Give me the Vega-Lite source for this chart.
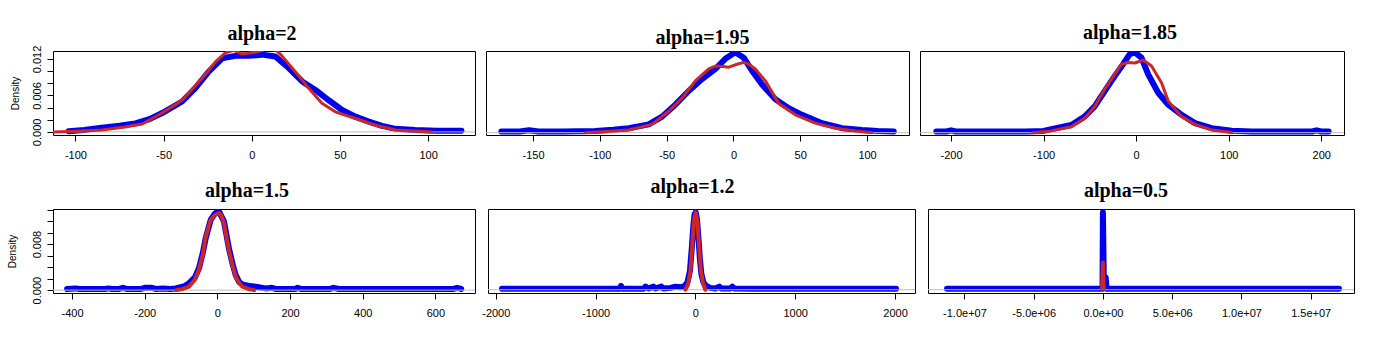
{
"$schema": "https://vega.github.io/schema/vega-lite/v6.json",
"background": "white",
"padding": {"left": 6, "top": 22, "right": 5, "bottom": 5},
"data": {"values": [
{"p":1,"s":"b","x":-103.8,"y":0.0001},{"p":1,"s":"b","x":-95,"y":0.0003},{"p":1,"s":"b","x":-85,"y":0.0007},{"p":1,"s":"b","x":-75,"y":0.001},{"p":1,"s":"b","x":-66,"y":0.0014},{"p":1,"s":"b","x":-58,"y":0.0021},{"p":1,"s":"b","x":-50.8,"y":0.0031},{"p":1,"s":"b","x":-39.5,"y":0.005},{"p":1,"s":"b","x":-32,"y":0.0072},{"p":1,"s":"b","x":-24.4,"y":0.0099},{"p":1,"s":"b","x":-16.8,"y":0.0121},{"p":1,"s":"b","x":-9.3,"y":0.0125},{"p":1,"s":"b","x":-1.7,"y":0.0125},{"p":1,"s":"b","x":5.9,"y":0.0127},{"p":1,"s":"b","x":13.4,"y":0.0124},{"p":1,"s":"b","x":21,"y":0.0105},{"p":1,"s":"b","x":28.6,"y":0.0083},{"p":1,"s":"b","x":36.1,"y":0.0069},{"p":1,"s":"b","x":43.7,"y":0.0052},{"p":1,"s":"b","x":51.2,"y":0.0036},{"p":1,"s":"b","x":58.8,"y":0.0025},{"p":1,"s":"b","x":66.4,"y":0.0017},{"p":1,"s":"b","x":73.9,"y":0.001},{"p":1,"s":"b","x":81.5,"y":0.0005},{"p":1,"s":"b","x":92.6,"y":0.0003},{"p":1,"s":"b","x":105,"y":0.0002},{"p":1,"s":"b","x":118.9,"y":0.0002},
{"p":1,"s":"r","x":-112,"y":0},{"p":1,"s":"r","x":-100,"y":0.0001},{"p":1,"s":"r","x":-84.9,"y":0.0003},{"p":1,"s":"r","x":-72,"y":0.0008},{"p":1,"s":"r","x":-62.1,"y":0.0013},{"p":1,"s":"r","x":-50.8,"y":0.0031},{"p":1,"s":"r","x":-39.5,"y":0.0052},{"p":1,"s":"r","x":-28.2,"y":0.0088},{"p":1,"s":"r","x":-20.6,"y":0.0115},{"p":1,"s":"r","x":-15,"y":0.013},{"p":1,"s":"r","x":-10,"y":0.0134},{"p":1,"s":"r","x":-5.5,"y":0.0128},{"p":1,"s":"r","x":2.1,"y":0.0131},{"p":1,"s":"r","x":9.6,"y":0.0137},{"p":1,"s":"r","x":14,"y":0.0134},{"p":1,"s":"r","x":17.1,"y":0.0125},{"p":1,"s":"r","x":24.7,"y":0.0099},{"p":1,"s":"r","x":32.2,"y":0.0072},{"p":1,"s":"r","x":39.8,"y":0.0047},{"p":1,"s":"r","x":47.4,"y":0.0033},{"p":1,"s":"r","x":58.8,"y":0.0022},{"p":1,"s":"r","x":70.1,"y":0.0011},{"p":1,"s":"r","x":81.5,"y":0.0003},{"p":1,"s":"r","x":95,"y":0.0001},{"p":1,"s":"r","x":102,"y":0},
{"p":2,"s":"b","x":-173.7,"y":0.0002},{"p":2,"s":"b","x":-160,"y":0.0002},{"p":2,"s":"b","x":-153,"y":0.0004},{"p":2,"s":"b","x":-146,"y":0.0002},{"p":2,"s":"b","x":-128,"y":0.0002},{"p":2,"s":"b","x":-103.4,"y":0.0003},{"p":2,"s":"b","x":-90,"y":0.0005},{"p":2,"s":"b","x":-78.4,"y":0.00075},{"p":2,"s":"b","x":-63.4,"y":0.0014},{"p":2,"s":"b","x":-53.4,"y":0.0027},{"p":2,"s":"b","x":-43.5,"y":0.0047},{"p":2,"s":"b","x":-33.5,"y":0.007},{"p":2,"s":"b","x":-23.5,"y":0.009},{"p":2,"s":"b","x":-13.5,"y":0.0107},{"p":2,"s":"b","x":-6.1,"y":0.0124},{"p":2,"s":"b","x":1.4,"y":0.0135},{"p":2,"s":"b","x":7.7,"y":0.0126},{"p":2,"s":"b","x":13.9,"y":0.0104},{"p":2,"s":"b","x":21.4,"y":0.0081},{"p":2,"s":"b","x":31.4,"y":0.0056},{"p":2,"s":"b","x":41.4,"y":0.0041},{"p":2,"s":"b","x":51.3,"y":0.003},{"p":2,"s":"b","x":66.3,"y":0.0016},{"p":2,"s":"b","x":81.3,"y":0.00075},{"p":2,"s":"b","x":96.3,"y":0.00046},{"p":2,"s":"b","x":108,"y":0.0003},{"p":2,"s":"b","x":120,"y":0.0002},
{"p":2,"s":"r","x":-110.8,"y":0},{"p":2,"s":"r","x":-95,"y":0.0002},{"p":2,"s":"r","x":-78.4,"y":0.00046},{"p":2,"s":"r","x":-60.9,"y":0.0014},{"p":2,"s":"r","x":-48.4,"y":0.0036},{"p":2,"s":"r","x":-38.5,"y":0.0058},{"p":2,"s":"r","x":-28.5,"y":0.0087},{"p":2,"s":"r","x":-18.5,"y":0.0107},{"p":2,"s":"r","x":-13.5,"y":0.0112},{"p":2,"s":"r","x":-8,"y":0.0111},{"p":2,"s":"r","x":-3.5,"y":0.011},{"p":2,"s":"r","x":1.4,"y":0.0114},{"p":2,"s":"r","x":7.7,"y":0.0118},{"p":2,"s":"r","x":11,"y":0.0116},{"p":2,"s":"r","x":16.4,"y":0.0107},{"p":2,"s":"r","x":23.9,"y":0.0087},{"p":2,"s":"r","x":33.9,"y":0.0049},{"p":2,"s":"r","x":46.3,"y":0.003},{"p":2,"s":"r","x":61.3,"y":0.0016},{"p":2,"s":"r","x":76.3,"y":0.00075},{"p":2,"s":"r","x":91.2,"y":0.0003},{"p":2,"s":"r","x":103.7,"y":0},
{"p":3,"s":"b","x":-216,"y":0.0002},{"p":3,"s":"b","x":-205,"y":0.0002},{"p":3,"s":"b","x":-200,"y":0.0004},{"p":3,"s":"b","x":-195,"y":0.0002},{"p":3,"s":"b","x":-150,"y":0.0002},{"p":3,"s":"b","x":-120,"y":0.0002},{"p":3,"s":"b","x":-100,"y":0.0003},{"p":3,"s":"b","x":-91.7,"y":0.0006},{"p":3,"s":"b","x":-70.1,"y":0.0013},{"p":3,"s":"b","x":-55.7,"y":0.0027},{"p":3,"s":"b","x":-44.8,"y":0.0044},{"p":3,"s":"b","x":-34,"y":0.007},{"p":3,"s":"b","x":-23.2,"y":0.0095},{"p":3,"s":"b","x":-14.1,"y":0.0115},{"p":3,"s":"b","x":-6.9,"y":0.0132},{"p":3,"s":"b","x":-1.5,"y":0.0135},{"p":3,"s":"b","x":5.7,"y":0.0126},{"p":3,"s":"b","x":13,"y":0.0098},{"p":3,"s":"b","x":23.8,"y":0.0067},{"p":3,"s":"b","x":34.7,"y":0.0047},{"p":3,"s":"b","x":49.1,"y":0.003},{"p":3,"s":"b","x":63.5,"y":0.0016},{"p":3,"s":"b","x":81.6,"y":0.00075},{"p":3,"s":"b","x":103.2,"y":0.00034},{"p":3,"s":"b","x":124.9,"y":0.0002},{"p":3,"s":"b","x":150,"y":0.0002},{"p":3,"s":"b","x":190,"y":0.0002},{"p":3,"s":"b","x":195,"y":0.0004},{"p":3,"s":"b","x":200,"y":0.0002},{"p":3,"s":"b","x":208,"y":0.0002},
{"p":3,"s":"r","x":-111.6,"y":0},{"p":3,"s":"r","x":-91.7,"y":0.0003},{"p":3,"s":"r","x":-70.1,"y":0.001},{"p":3,"s":"r","x":-55.7,"y":0.0024},{"p":3,"s":"r","x":-44.8,"y":0.0044},{"p":3,"s":"r","x":-34,"y":0.0073},{"p":3,"s":"r","x":-23.2,"y":0.0098},{"p":3,"s":"r","x":-15.9,"y":0.0115},{"p":3,"s":"r","x":-8.7,"y":0.0118},{"p":3,"s":"r","x":-1.5,"y":0.0117},{"p":3,"s":"r","x":7.6,"y":0.0122},{"p":3,"s":"r","x":16.6,"y":0.0112},{"p":3,"s":"r","x":27.4,"y":0.0084},{"p":3,"s":"r","x":34.7,"y":0.0053},{"p":3,"s":"r","x":49.1,"y":0.0027},{"p":3,"s":"r","x":63.5,"y":0.0014},{"p":3,"s":"r","x":81.6,"y":0.00046},{"p":3,"s":"r","x":99.6,"y":0.0001},{"p":3,"s":"r","x":103.2,"y":0},
{"p":4,"s":"b","x":-413.6,"y":0.0002},{"p":4,"s":"b","x":-390,"y":0.0003},{"p":4,"s":"b","x":-380,"y":0.0002},{"p":4,"s":"b","x":-310,"y":0.0002},{"p":4,"s":"b","x":-300,"y":0.0003},{"p":4,"s":"b","x":-290,"y":0.0002},{"p":4,"s":"b","x":-270,"y":0.0002},{"p":4,"s":"b","x":-260,"y":0.0004},{"p":4,"s":"b","x":-250,"y":0.0002},{"p":4,"s":"b","x":-210,"y":0.0002},{"p":4,"s":"b","x":-200,"y":0.0004},{"p":4,"s":"b","x":-180,"y":0.0004},{"p":4,"s":"b","x":-170,"y":0.0002},{"p":4,"s":"b","x":-150,"y":0.0003},{"p":4,"s":"b","x":-130,"y":0.0002},{"p":4,"s":"b","x":-115,"y":0.0003},{"p":4,"s":"b","x":-90,"y":0.0007},{"p":4,"s":"b","x":-78,"y":0.0012},{"p":4,"s":"b","x":-62,"y":0.0022},{"p":4,"s":"b","x":-50.7,"y":0.0038},{"p":4,"s":"b","x":-40,"y":0.0065},{"p":4,"s":"b","x":-32.3,"y":0.009},{"p":4,"s":"b","x":-18.5,"y":0.0122},{"p":4,"s":"b","x":-8,"y":0.0132},{"p":4,"s":"b","x":0,"y":0.0136},{"p":4,"s":"b","x":6,"y":0.0135},{"p":4,"s":"b","x":18.2,"y":0.0119},{"p":4,"s":"b","x":32,"y":0.0072},{"p":4,"s":"b","x":42,"y":0.0045},{"p":4,"s":"b","x":50.5,"y":0.0026},{"p":4,"s":"b","x":60,"y":0.0014},{"p":4,"s":"b","x":68.7,"y":0.001},{"p":4,"s":"b","x":90,"y":0.0007},{"p":4,"s":"b","x":105.6,"y":0.0006},{"p":4,"s":"b","x":133,"y":0.0003},{"p":4,"s":"b","x":150,"y":0.0004},{"p":4,"s":"b","x":160,"y":0.0002},{"p":4,"s":"b","x":215,"y":0.0002},{"p":4,"s":"b","x":220,"y":0.0004},{"p":4,"s":"b","x":230,"y":0.0002},{"p":4,"s":"b","x":310,"y":0.0002},{"p":4,"s":"b","x":320,"y":0.0004},{"p":4,"s":"b","x":335,"y":0.0002},{"p":4,"s":"b","x":420,"y":0.0002},{"p":4,"s":"b","x":650,"y":0.0002},{"p":4,"s":"b","x":660,"y":0.0004},{"p":4,"s":"b","x":671,"y":0.0002},
{"p":4,"s":"r","x":-113,"y":0},{"p":4,"s":"r","x":-95,"y":0.0002},{"p":4,"s":"r","x":-78.3,"y":0.0006},{"p":4,"s":"r","x":-62,"y":0.0018},{"p":4,"s":"r","x":-50.7,"y":0.0036},{"p":4,"s":"r","x":-40,"y":0.0062},{"p":4,"s":"r","x":-32.3,"y":0.0092},{"p":4,"s":"r","x":-18.5,"y":0.0122},{"p":4,"s":"r","x":-8,"y":0.013},{"p":4,"s":"r","x":4.4,"y":0.0134},{"p":4,"s":"r","x":10,"y":0.0131},{"p":4,"s":"r","x":18.2,"y":0.0116},{"p":4,"s":"r","x":32,"y":0.0069},{"p":4,"s":"r","x":42,"y":0.0042},{"p":4,"s":"r","x":50.5,"y":0.0023},{"p":4,"s":"r","x":60,"y":0.0012},{"p":4,"s":"r","x":68.7,"y":0.0006},{"p":4,"s":"r","x":85,"y":0.0002},{"p":4,"s":"r","x":101,"y":0},
{"p":5,"s":"b","x":-1938,"y":0.00015},{"p":5,"s":"b","x":-1500,"y":0.00015},{"p":5,"s":"b","x":-760,"y":0.00015},{"p":5,"s":"b","x":-745,"y":0.0006},{"p":5,"s":"b","x":-735,"y":0.00015},{"p":5,"s":"b","x":-520,"y":0.00015},{"p":5,"s":"b","x":-500,"y":0.0005},{"p":5,"s":"b","x":-470,"y":0.0002},{"p":5,"s":"b","x":-420,"y":0.0005},{"p":5,"s":"b","x":-400,"y":0.0002},{"p":5,"s":"b","x":-340,"y":0.0005},{"p":5,"s":"b","x":-320,"y":0.0002},{"p":5,"s":"b","x":-250,"y":0.0003},{"p":5,"s":"b","x":-200,"y":0.0005},{"p":5,"s":"b","x":-150,"y":0.0004},{"p":5,"s":"b","x":-110,"y":0.0006},{"p":5,"s":"b","x":-80,"y":0.0012},{"p":5,"s":"b","x":-55,"y":0.003},{"p":5,"s":"b","x":-35,"y":0.007},{"p":5,"s":"b","x":-20,"y":0.0105},{"p":5,"s":"b","x":-8,"y":0.0122},{"p":5,"s":"b","x":3,"y":0.0125},{"p":5,"s":"b","x":15,"y":0.0115},{"p":5,"s":"b","x":30,"y":0.0085},{"p":5,"s":"b","x":45,"y":0.005},{"p":5,"s":"b","x":60,"y":0.0025},{"p":5,"s":"b","x":80,"y":0.0012},{"p":5,"s":"b","x":110,"y":0.0006},{"p":5,"s":"b","x":150,"y":0.0003},{"p":5,"s":"b","x":200,"y":0.0002},{"p":5,"s":"b","x":240,"y":0.0005},{"p":5,"s":"b","x":260,"y":0.0002},{"p":5,"s":"b","x":350,"y":0.0002},{"p":5,"s":"b","x":370,"y":0.0005},{"p":5,"s":"b","x":390,"y":0.0002},{"p":5,"s":"b","x":600,"y":0.00015},{"p":5,"s":"b","x":2010,"y":0.00015},
{"p":5,"s":"r","x":-100,"y":0},{"p":5,"s":"r","x":-75,"y":0.0008},{"p":5,"s":"r","x":-50,"y":0.003},{"p":5,"s":"r","x":-30,"y":0.0075},{"p":5,"s":"r","x":-15,"y":0.0112},{"p":5,"s":"r","x":3,"y":0.0125},{"p":5,"s":"r","x":20,"y":0.011},{"p":5,"s":"r","x":35,"y":0.0075},{"p":5,"s":"r","x":55,"y":0.003},{"p":5,"s":"r","x":80,"y":0.0008},{"p":5,"s":"r","x":100,"y":0},
{"p":6,"s":"b","x":-11257000,"y":0.00015},{"p":6,"s":"b","x":-5000000,"y":0.00015},{"p":6,"s":"b","x":-30000,"y":0.00015},{"p":6,"s":"b","x":0,"y":0.0125},{"p":6,"s":"b","x":60000,"y":0.0021},{"p":6,"s":"b","x":200000,"y":0.002},{"p":6,"s":"b","x":260000,"y":0.00015},{"p":6,"s":"b","x":5000000,"y":0.00015},{"p":6,"s":"b","x":17045000,"y":0.00015},
{"p":6,"s":"r","x":-60000,"y":0},{"p":6,"s":"r","x":0,"y":0.0044},{"p":6,"s":"r","x":60000,"y":0}
]},
"vconcat": [
{"hconcat": [
{"width": 422, "height": 84, "title": {"text": "alpha=2", "offset": 1, "dx": -2},
 "layer": [
  {"transform": [{"filter": "datum.p==1 && datum.s=='b'"}], "mark": {"type": "line", "color": "#0000f0", "strokeWidth": 6, "strokeCap": "round", "strokeJoin": "round", "clip": true},
   "encoding": {"x": {"field": "x", "type": "quantitative", "scale": {"domain": [-112.7, 126.6], "nice": false, "zero": false}, "axis": {"title": null, "values": [-100, -50, 0, 50, 100], "labelExpr": "datum.value < 0 ? '-' + format(-datum.value, 'd') : format(datum.value, 'd')"}},
    "y": {"field": "y", "type": "quantitative", "scale": {"domain": [-0.00051, 0.0133], "nice": false, "zero": false}, "axis": {"title": "Density", "values": [0, 0.002, 0.004, 0.006, 0.008, 0.01, 0.012], "labelExpr": "datum.value == 0 || abs(datum.value - 0.006) < 1e-9 || abs(datum.value - 0.012) < 1e-9 ? format(datum.value, '.3f') : ''"}}}},
  {"data": {"values": [{"z": 0}]}, "mark": {"type": "rule", "color": "#bebebe", "strokeWidth": 1},
   "encoding": {"y": {"field": "z", "type": "quantitative", "axis": {"title": "Density", "values": [0, 0.002, 0.004, 0.006, 0.008, 0.01, 0.012], "labelExpr": "datum.value == 0 || abs(datum.value - 0.006) < 1e-9 || abs(datum.value - 0.012) < 1e-9 ? format(datum.value, '.3f') : ''"}}}},
  {"transform": [{"filter": "datum.p==1 && datum.s=='r'"}], "mark": {"type": "line", "color": "#cd2626", "strokeWidth": 3, "strokeCap": "round", "strokeJoin": "round", "clip": true},
   "encoding": {"x": {"field": "x", "type": "quantitative", "axis": {"title": null, "values": [-100, -50, 0, 50, 100], "labelExpr": "datum.value < 0 ? '-' + format(-datum.value, 'd') : format(datum.value, 'd')"}},
    "y": {"field": "y", "type": "quantitative", "axis": {"title": "Density", "values": [0, 0.002, 0.004, 0.006, 0.008, 0.01, 0.012], "labelExpr": "datum.value == 0 || abs(datum.value - 0.006) < 1e-9 || abs(datum.value - 0.012) < 1e-9 ? format(datum.value, '.3f') : ''"}}}}
 ]},
{"width": 423, "height": 84, "title": {"text": "alpha=1.95", "offset": 3.3, "dx": 5},
 "layer": [
  {"transform": [{"filter": "datum.p==2 && datum.s=='b'"}], "mark": {"type": "line", "color": "#0000f0", "strokeWidth": 6, "strokeCap": "round", "strokeJoin": "round", "clip": true},
   "encoding": {"x": {"field": "x", "type": "quantitative", "scale": {"domain": [-185.2, 131.4], "nice": false, "zero": false}, "axis": {"title": null, "values": [-150, -100, -50, 0, 50, 100], "labelExpr": "datum.value < 0 ? '-' + format(-datum.value, 'd') : format(datum.value, 'd')"}},
    "y": {"field": "y", "type": "quantitative", "scale": {"domain": [-0.00039, 0.01372], "nice": false, "zero": false}, "axis": null}}},
  {"data": {"values": [{"z": 0}]}, "mark": {"type": "rule", "color": "#bebebe", "strokeWidth": 1},
   "encoding": {"y": {"field": "z", "type": "quantitative", "axis": null}}},
  {"transform": [{"filter": "datum.p==2 && datum.s=='r'"}], "mark": {"type": "line", "color": "#cd2626", "strokeWidth": 3, "strokeCap": "round", "strokeJoin": "round", "clip": true},
   "encoding": {"x": {"field": "x", "type": "quantitative", "axis": {"title": null, "values": [-150, -100, -50, 0, 50, 100], "labelExpr": "datum.value < 0 ? '-' + format(-datum.value, 'd') : format(datum.value, 'd')"}},
    "y": {"field": "y", "type": "quantitative", "axis": null}}}
 ]},
{"width": 424, "height": 84, "title": {"text": "alpha=1.85", "offset": 8.3, "dx": -2},
 "layer": [
  {"transform": [{"filter": "datum.p==3 && datum.s=='b'"}], "mark": {"type": "line", "color": "#0000f0", "strokeWidth": 6, "strokeCap": "round", "strokeJoin": "round", "clip": true},
   "encoding": {"x": {"field": "x", "type": "quantitative", "scale": {"domain": [-233.6, 224.6], "nice": false, "zero": false}, "axis": {"title": null, "values": [-200, -100, 0, 100, 200], "labelExpr": "datum.value < 0 ? '-' + format(-datum.value, 'd') : format(datum.value, 'd')"}},
    "y": {"field": "y", "type": "quantitative", "scale": {"domain": [-0.00039, 0.01372], "nice": false, "zero": false}, "axis": null}}},
  {"data": {"values": [{"z": 0}]}, "mark": {"type": "rule", "color": "#bebebe", "strokeWidth": 1},
   "encoding": {"y": {"field": "z", "type": "quantitative", "axis": null}}},
  {"transform": [{"filter": "datum.p==3 && datum.s=='r'"}], "mark": {"type": "line", "color": "#cd2626", "strokeWidth": 3, "strokeCap": "round", "strokeJoin": "round", "clip": true},
   "encoding": {"x": {"field": "x", "type": "quantitative", "axis": {"title": null, "values": [-200, -100, 0, 100, 200], "labelExpr": "datum.value < 0 ? '-' + format(-datum.value, 'd') : format(datum.value, 'd')"}},
    "y": {"field": "y", "type": "quantitative", "axis": null}}}
 ]}
], "spacing": 11, "bounds": "flush"},
{"hconcat": [
{"width": 422, "height": 84, "title": {"text": "alpha=1.5", "offset": 8, "dx": -17},
 "layer": [
  {"transform": [{"filter": "datum.p==4 && datum.s=='b'"}], "mark": {"type": "line", "color": "#0000f0", "strokeWidth": 6, "strokeCap": "round", "strokeJoin": "round", "clip": true},
   "encoding": {"x": {"field": "x", "type": "quantitative", "scale": {"domain": [-452.5, 709.1], "nice": false, "zero": false}, "axis": {"title": null, "values": [-400, -200, 0, 200, 400, 600], "labelExpr": "datum.value < 0 ? '-' + format(-datum.value, 'd') : format(datum.value, 'd')"}},
    "y": {"field": "y", "type": "quantitative", "scale": {"domain": [-0.0005, 0.0141], "nice": false, "zero": false}, "axis": {"title": "Density", "titlePadding": 14, "values": [0, 0.002, 0.004, 0.006, 0.008, 0.01, 0.012, 0.014], "labelExpr": "datum.value == 0 || abs(datum.value - 0.008) < 1e-9 ? format(datum.value, '.3f') : ''"}}}},
  {"data": {"values": [{"z": 0}]}, "mark": {"type": "rule", "color": "#bebebe", "strokeWidth": 1},
   "encoding": {"y": {"field": "z", "type": "quantitative", "axis": {"title": "Density", "titlePadding": 14, "values": [0, 0.002, 0.004, 0.006, 0.008, 0.01, 0.012, 0.014], "labelExpr": "datum.value == 0 || abs(datum.value - 0.008) < 1e-9 ? format(datum.value, '.3f') : ''"}}}},
  {"transform": [{"filter": "datum.p==4 && datum.s=='r'"}], "mark": {"type": "line", "color": "#cd2626", "strokeWidth": 4, "strokeCap": "round", "strokeJoin": "round", "clip": true},
   "encoding": {"x": {"field": "x", "type": "quantitative", "axis": {"title": null, "values": [-400, -200, 0, 200, 400, 600], "labelExpr": "datum.value < 0 ? '-' + format(-datum.value, 'd') : format(datum.value, 'd')"}},
    "y": {"field": "y", "type": "quantitative", "axis": {"title": "Density", "titlePadding": 14, "values": [0, 0.002, 0.004, 0.006, 0.008, 0.01, 0.012, 0.014], "labelExpr": "datum.value == 0 || abs(datum.value - 0.008) < 1e-9 ? format(datum.value, '.3f') : ''"}}}}
 ]},
{"width": 427, "height": 84, "title": {"text": "alpha=1.2", "offset": 12, "dx": -9},
 "layer": [
  {"transform": [{"filter": "datum.p==5 && datum.s=='b'"}], "mark": {"type": "line", "color": "#0000f0", "strokeWidth": 6, "strokeCap": "round", "strokeJoin": "round", "clip": true},
   "encoding": {"x": {"field": "x", "type": "quantitative", "scale": {"domain": [-2078, 2200], "nice": false, "zero": false}, "axis": {"title": null, "values": [-2000, -1000, 0, 1000, 2000], "labelExpr": "datum.value < 0 ? '-' + format(-datum.value, 'd') : format(datum.value, 'd')"}},
    "y": {"field": "y", "type": "quantitative", "scale": {"domain": [-0.00053, 0.01305], "nice": false, "zero": false}, "axis": null}}},
  {"data": {"values": [{"z": 0}]}, "mark": {"type": "rule", "color": "#bebebe", "strokeWidth": 1},
   "encoding": {"y": {"field": "z", "type": "quantitative", "axis": null}}},
  {"transform": [{"filter": "datum.p==5 && datum.s=='r'"}], "mark": {"type": "line", "color": "#cd2626", "strokeWidth": 4, "strokeCap": "round", "strokeJoin": "round", "clip": true},
   "encoding": {"x": {"field": "x", "type": "quantitative", "axis": {"title": null, "values": [-2000, -1000, 0, 1000, 2000], "labelExpr": "datum.value < 0 ? '-' + format(-datum.value, 'd') : format(datum.value, 'd')"}},
    "y": {"field": "y", "type": "quantitative", "axis": null}}}
 ]},
{"width": 426, "height": 84, "title": {"text": "alpha=0.5", "offset": 8, "dx": -15},
 "layer": [
  {"transform": [{"filter": "datum.p==6 && datum.s=='b'"}], "mark": {"type": "line", "color": "#0000f0", "strokeWidth": 6, "strokeCap": "round", "strokeJoin": "round", "clip": true},
   "encoding": {"x": {"field": "x", "type": "quantitative", "scale": {"domain": [-12630000, 18129000], "nice": false, "zero": false}, "axis": {"title": null, "values": [-10000000, -5000000, 0, 5000000, 10000000, 15000000], "labelExpr": "(datum.value < 0 ? '-' : '') + replace(format(abs(datum.value), '.1e'), 'e+', 'e+0')"}},
    "y": {"field": "y", "type": "quantitative", "scale": {"domain": [-0.00053, 0.01305], "nice": false, "zero": false}, "axis": null}}},
  {"data": {"values": [{"z": 0}]}, "mark": {"type": "rule", "color": "#bebebe", "strokeWidth": 1},
   "encoding": {"y": {"field": "z", "type": "quantitative", "axis": null}}},
  {"transform": [{"filter": "datum.p==6 && datum.s=='r'"}], "mark": {"type": "line", "color": "#cd2626", "strokeWidth": 4, "strokeCap": "butt", "strokeJoin": "round", "clip": true},
   "encoding": {"x": {"field": "x", "type": "quantitative", "axis": {"title": null, "values": [-10000000, -5000000, 0, 5000000, 10000000, 15000000], "labelExpr": "(datum.value < 0 ? '-' : '') + replace(format(abs(datum.value), '.1e'), 'e+', 'e+0')"}},
    "y": {"field": "y", "type": "quantitative", "axis": null}}}
 ]}
], "spacing": 13, "bounds": "flush"}
],
"spacing": 15,
"config": {
 "view": {"stroke": "#000000", "strokeWidth": 1},
 "axis": {"domain": false, "grid": false, "tickColor": "#000000", "tickWidth": 1, "tickSize": 6, "labelColor": "#000000", "labelFont": "Liberation Sans", "labelFontSize": 11, "labelOverlap": false, "labelFlush": false, "titleFont": "Liberation Sans", "titleFontWeight": "normal", "titleColor": "#000000", "titleFontSize": 10},
 "axisX": {"labelPadding": 8, "labelAngle": 0},
 "axisY": {"labelAngle": 270, "labelAlign": "center", "labelBaseline": "bottom", "labelPadding": 5, "titlePadding": 11},
 "title": {"font": "Liberation Serif", "fontSize": 20, "fontWeight": "bold", "color": "#000000", "baseline": "alphabetic", "anchor": "middle", "frame": "group"}
}
}
